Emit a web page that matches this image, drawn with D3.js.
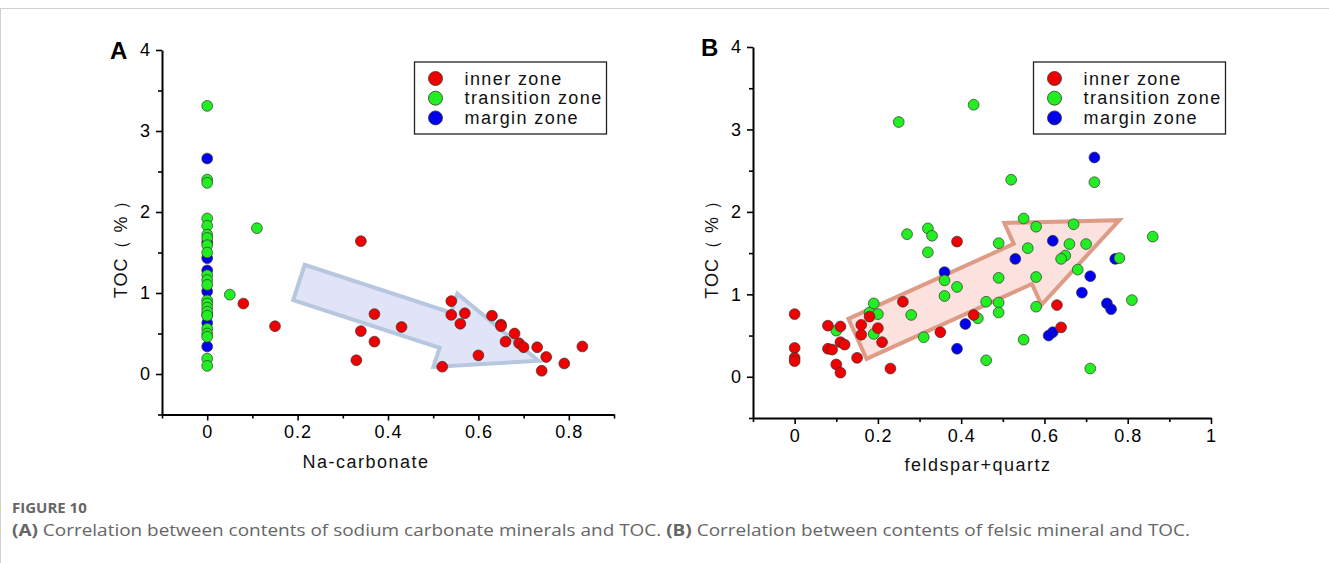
<!DOCTYPE html>
<html>
<head>
<meta charset="utf-8">
<script src="https://cdn.jsdelivr.net/npm/d3@7"></script>
<style>
  body { margin: 0; background: #fff; }
  svg text { font-family: "Liberation Sans", Arial, sans-serif; }
  svg text.caption { font-family: "Open Sans", "Noto Sans", sans-serif; }
</style>
</head>
<body>
<div id="chart"></div>
<script>
// panel A: Na-carbonate vs TOC
const innerA = [[0.08,0.87],[0.15,0.59],[0.34,1.64],[0.37,0.74],[0.34,0.53],[0.37,0.40],[0.33,0.17],[0.43,0.58],
  [0.54,0.90],[0.54,0.73],[0.57,0.75],[0.56,0.62],[0.52,0.09],[0.60,0.23],[0.63,0.72],[0.65,0.61],[0.65,0.59],
  [0.68,0.50],[0.66,0.40],[0.69,0.38],[0.70,0.33],[0.73,0.33],[0.75,0.21],[0.74,0.04],[0.79,0.13],[0.83,0.34]];
const transA = [[0,3.31],[0,2.40],[0,2.36],[0,1.92],[0,1.83],[0,1.72],[0,1.68],[0,1.59],[0,1.50],[0,1.22],
  [0,1.16],[0,1.10],[0,0.91],[0,0.87],[0,0.82],[0,0.77],[0,0.72],[0,0.56],[0,0.50],[0,0.46],[0,0.19],[0,0.10],
  [0.05,0.98],[0.11,1.80]];
const marginA = [[0,2.66],[0,1.63],[0,1.43],[0,1.28],[0,1.02],[0,0.73],[0,0.63],[0,0.34]];

// panel B: feldspar+quartz vs TOC
const innerB = [[0,0.76],[0,0.35],[0,0.23],[0,0.19],[0.08,0.62],[0.11,0.61],[0.08,0.34],[0.09,0.33],[0.11,0.42],
  [0.12,0.39],[0.10,0.15],[0.11,0.05],[0.15,0.23],[0.16,0.63],[0.16,0.51],[0.18,0.73],[0.20,0.59],[0.21,0.42],
  [0.26,0.91],[0.23,0.10],[0.35,0.54],[0.43,0.75],[0.39,1.64],[0.63,0.87],[0.64,0.60]];
const transB = [[0.10,0.56],[0.18,0.78],[0.19,0.89],[0.20,0.76],[0.19,0.52],[0.28,0.75],[0.31,0.48],[0.46,0.20],
  [0.36,0.98],[0.39,1.09],[0.36,1.17],[0.44,0.71],[0.46,0.91],[0.49,0.90],[0.49,0.78],[0.72,2.36],[0.52,2.39],
  [0.55,1.92],[0.58,1.82],[0.67,1.85],[0.86,1.70],[0.49,1.62],[0.56,1.56],[0.66,1.61],[0.70,1.61],[0.65,1.47],
  [0.64,1.43],[0.78,1.44],[0.68,1.30],[0.49,1.20],[0.58,1.21],[0.58,0.85],[0.81,0.93],[0.55,0.45],[0.71,0.10],
  [0.25,3.09],[0.43,3.30],[0.27,1.73],[0.32,1.80],[0.33,1.71],[0.32,1.51]];
const marginB = [[0.72,2.66],[0.62,1.65],[0.53,1.43],[0.77,1.43],[0.71,1.22],[0.69,1.02],[0.75,0.89],[0.76,0.82],
  [0.41,0.64],[0.39,0.34],[0.62,0.54],[0.61,0.50],[0.36,1.27]];

const zones = ['inner zone', 'transition zone', 'margin zone'];
const zoneColors = ['#f00000', '#22ee22', '#0000ee'];

const ticksY = [0, 1, 2, 3, 4];
const minorY = [-0.5, 0.5, 1.5, 2.5, 3.5];
const ticksXA = [0, 0.2, 0.4, 0.6, 0.8];
const minorXA = [-0.1, 0.1, 0.3, 0.5, 0.7, 0.9];
const ticksXB = [0, 0.2, 0.4, 0.6, 0.8, 1];
const minorXB = [-0.1, 0.1, 0.3, 0.5, 0.7, 0.9];

// trend arrows (data coords: tail centre -> tip)
const arrowA = [[0.203, 1.13], [0.733, 0.164]];
const arrowB = [[0.151, 0.46], [0.78, 1.90]];

const W = 1329, H = 563;
const svg = d3.select('#chart').append('svg').attr('width', W).attr('height', H);
svg.append('rect').attr('width', W).attr('height', H).attr('fill', '#fff');
svg.append('line').attr('x1', 0).attr('x2', W).attr('y1', 8.5).attr('y2', 8.5).attr('stroke', '#d0d0d0');
svg.append('line').attr('x1', 0.5).attr('x2', 0.5).attr('y1', 8).attr('y2', H).attr('stroke', '#d0d0d0');

function arrowPath(x, y, a, shaft, head, headLen) {
    const t = [x(a[0][0]), y(a[0][1])], p = [x(a[1][0]), y(a[1][1])];
    const dx = p[0] - t[0], dy = p[1] - t[1], len = Math.hypot(dx, dy);
    const u = [dx / len, dy / len], n = [-u[1], u[0]];
    const b = [p[0] - u[0] * headLen, p[1] - u[1] * headLen];
    const pt = (o, k) => [o[0] + n[0] * k, o[1] + n[1] * k];
    const pts = [pt(t, shaft / 2), pt(b, shaft / 2), pt(b, head / 2), p, pt(b, -head / 2), pt(b, -shaft / 2), pt(t, -shaft / 2)];
    return 'M' + pts.map(q => q.join(',')).join('L') + 'Z';
}

function drawPanel(cfg) {
    const g = svg.append('g');
    const x = d3.scaleLinear().domain(cfg.xDomain).range(cfg.xRange);
    const y = d3.scaleLinear().domain([-0.5, 4]).range(cfg.yRange);

    g.append('path')
        .attr('d', arrowPath(x, y, cfg.arrow, cfg.arrowSize[0], cfg.arrowSize[1], cfg.arrowSize[2]))
        .attr('fill', cfg.arrowFill)
        .attr('stroke', cfg.arrowStroke)
        .attr('stroke-width', 4)
        .attr('stroke-linejoin', 'miter');

    g.append('g').attr('transform', 'translate(' + cfg.xRange[0] + ',0)')
        .call(d3.axisLeft(y).tickValues(ticksY).tickFormat(d3.format('d')).tickSize(6).tickSizeOuter(0).tickPadding(5));
    g.append('g').attr('transform', 'translate(' + cfg.xRange[0] + ',0)')
        .call(d3.axisLeft(y).tickValues(minorY).tickFormat('').tickSize(4).tickSizeOuter(0))
        .select('.domain').remove();
    g.append('g').attr('transform', 'translate(0,' + cfg.yRange[0] + ')')
        .call(d3.axisBottom(x).tickValues(cfg.ticksX).tickFormat(d => d === 0 || d === 1 ? d : d3.format('.1f')(d))
            .tickSize(6).tickSizeOuter(0).tickPadding(5));
    g.append('g').attr('transform', 'translate(0,' + cfg.yRange[0] + ')')
        .call(d3.axisBottom(x).tickValues(cfg.minorX).tickFormat('').tickSize(4).tickSizeOuter(0))
        .select('.domain').remove();
    g.selectAll('.domain').attr('stroke', '#000').attr('stroke-width', 2);
    g.selectAll('.tick line').attr('stroke', '#000').attr('stroke-width', 1.6);
    g.selectAll('.tick text').attr('font-size', 18).attr('letter-spacing', 1).attr('fill', '#000');

    g.append('text').attr('x', cfg.xTitleX).attr('y', cfg.yRange[0] + 53)
        .attr('text-anchor', 'middle').attr('font-size', 18).attr('letter-spacing', 1.5)
        .attr('fill', '#111').text(cfg.xTitle);
    g.append('text').attr('transform', 'translate(' + (cfg.xRange[0] - 35) + ',' + y(1.6) + ') rotate(-90)')
        .attr('text-anchor', 'middle').attr('font-size', 18).attr('letter-spacing', 1)
        .attr('fill', '#111').text('TOC（ % ）');
    g.append('text').attr('x', cfg.xRange[0] - 52).attr('y', y(4) + 9)
        .attr('font-size', 24).attr('font-weight', 'bold').attr('fill', '#000').text(cfg.letter);

    const series = [cfg.inner, cfg.trans, cfg.margin];
    [2, 1, 0].forEach(i => {
        g.append('g').selectAll('circle')
            .data(series[i]).enter().append('circle')
            .attr('cx', d => x(d[0]))
            .attr('cy', d => y(d[1]))
            .attr('r', 5.4)
            .attr('fill', zoneColors[i])
            .attr('stroke', '#333')
            .attr('stroke-width', 0.7);
    });

    const lg = g.append('g').attr('transform', 'translate(' + cfg.legend[0] + ',' + cfg.legend[1] + ')');
    lg.append('rect').attr('width', 192).attr('height', 72).attr('fill', '#fff')
        .attr('stroke', '#222').attr('stroke-width', 1.3);
    const items = lg.selectAll('.legend').data(zones).enter().append('g')
        .attr('transform', (d, i) => 'translate(0,' + (16.5 + i * 19.7) + ')');
    items.append('circle').attr('cx', 21).attr('r', 7)
        .attr('fill', (d, i) => zoneColors[i]).attr('stroke', '#333').attr('stroke-width', 0.8);
    items.append('text').attr('x', 50).attr('y', 6).attr('font-size', 18).attr('letter-spacing', 1.4)
        .attr('fill', '#111').text(d => d);
}

drawPanel({
    letter: 'A', xTitle: 'Na-carbonate', xTitleX: 366,
    xDomain: [-0.1, 0.9], xRange: [162, 614], yRange: [414.5, 50],
    ticksX: ticksXA, minorX: minorXA,
    inner: innerA, trans: transA, margin: marginA,
    arrow: arrowA, arrowSize: [37, 77, 98],
    arrowFill: '#e1e3f7', arrowStroke: '#b7c7df',
    legend: [414.5, 62]
});
drawPanel({
    letter: 'B', xTitle: 'feldspar+quartz', xTitleX: 978,
    xDomain: [-0.1, 1], xRange: [753, 1211], yRange: [418, 47],
    ticksX: ticksXB, minorX: minorXB,
    inner: innerB, trans: transB, margin: marginB,
    arrow: arrowB, arrowSize: [44, 90, 106],
    arrowFill: '#fbe2de', arrowStroke: '#de9c87',
    legend: [1033.5, 62]
});

const cap = svg.append('g');
cap.append('text').attr('class', 'caption').attr('x', 12).attr('y', 513)
    .attr('font-size', 15).attr('font-weight', 'bold').attr('fill', '#666').text('FIGURE 10');
const line = cap.append('text').attr('class', 'caption').attr('x', 12).attr('y', 536)
    .attr('font-size', 16.5).attr('fill', '#666')
    .attr('textLength', 1178).attr('lengthAdjust', 'spacingAndGlyphs');
line.append('tspan').attr('font-weight', 'bold').text('(A)');
line.append('tspan').text(' Correlation between contents of sodium carbonate minerals and TOC. ');
line.append('tspan').attr('font-weight', 'bold').text('(B)');
line.append('tspan').text(' Correlation between contents of felsic mineral and TOC.');
</script>
</body>
</html>
